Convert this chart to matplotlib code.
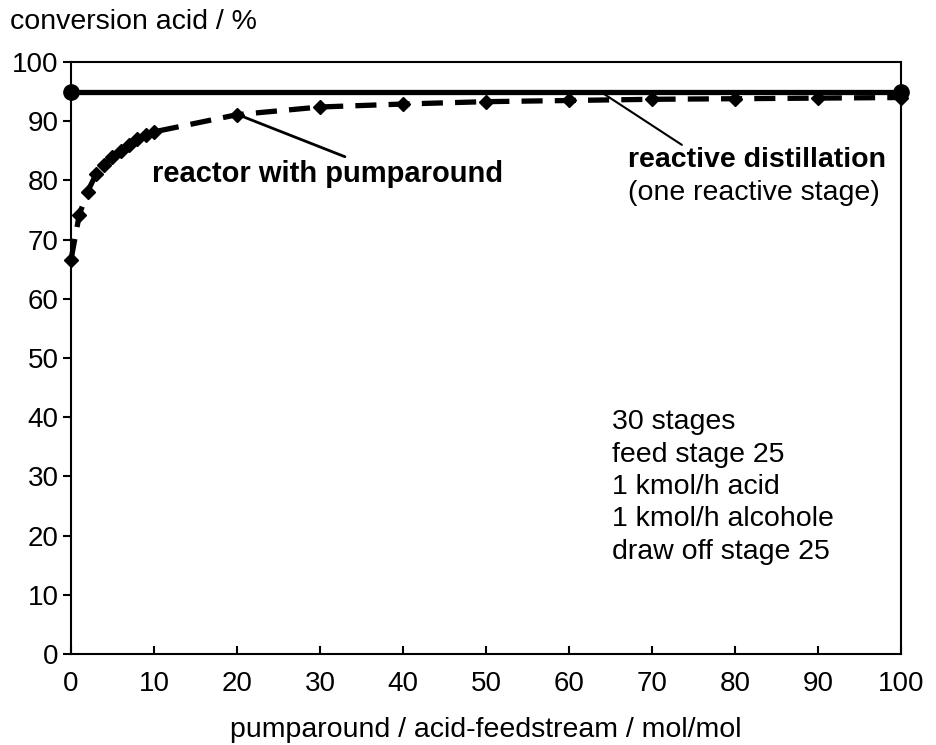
import matplotlib
matplotlib.use("Agg")
import matplotlib.pyplot as plt

plt.rcParams['font.family'] = ['Liberation Sans', 'DejaVu Sans']

# data
ratio = [0, 1, 2, 3, 4, 5, 6, 7, 8, 9, 10, 20, 30, 40, 50, 60, 70, 80, 90, 100]
conv_reactor = [66.6, 74.2, 78.1, 81.0, 82.6, 83.9, 85.0, 86.0, 87.0, 87.6, 88.2,
                91.1, 92.4, 92.9, 93.3, 93.5, 93.7, 93.8, 93.9, 94.0]
rd_x = [0, 100]
rd_conv = [95.0, 95.0]
xticks = list(range(0, 101, 10))
yticks = list(range(0, 101, 10))
info_lines = ["30 stages", "feed stage 25", "1 kmol/h acid", "1 kmol/h alcohole", "draw off stage 25"]

fs = 20.5
tfs = 20
fig = plt.figure(figsize=(9.37, 7.45), dpi=100)
ax = fig.add_axes([71/937, 1-654/745, 830/937, 592/745])

ax.plot(ratio, conv_reactor, color='black', lw=3.8, dashes=(4, 2.3),
        marker='D', ms=7.5, mfc='black', mec='black', clip_on=False, zorder=3)
ax.plot(rd_x, rd_conv, color='black', lw=3.8, marker='o', ms=11,
        clip_on=False, zorder=4)

ax.set_xlim(0, 100)
ax.set_ylim(0, 100)
ax.set_xticks(xticks)
ax.set_yticks(yticks)
ax.tick_params(axis='x', direction='in', length=6, width=1.5, labelsize=tfs, pad=12)
ax.tick_params(axis='y', direction='out', length=6, width=1.5, labelsize=tfs, pad=3)
for s in ax.spines.values():
    s.set_linewidth(1.5)

fig.text(10/937, 1-22/745, "conversion acid / %", fontsize=fs, va='center', ha='left')
fig.text(486/937, 1-730/745, "pumparound / acid-feedstream / mol/mol", fontsize=fs,
         va='center', ha='center')

# annotations
ax.annotate("", xy=(20.3, 91.0), xytext=(33.0, 84.0),
            arrowprops=dict(arrowstyle='-', color='black', lw=2,
                            shrinkA=0, shrinkB=0))
ax.text(9.8, 81.1, "reactor with pumparound", fontsize=21, fontweight='bold',
        ha='left', va='center')
ax.annotate("", xy=(64.0, 94.8), xytext=(73.6, 86.0),
            arrowprops=dict(arrowstyle='-', color='black', lw=1.5,
                            shrinkA=0, shrinkB=0))
ax.text(67.1, 83.4, "reactive distillation", fontsize=fs, fontweight='bold',
        ha='left', va='center')
ax.text(67.1, 77.9, "(one reactive stage)", fontsize=fs, ha='left', va='center')

ax.text(65.2, 28.2, "\n".join(info_lines), fontsize=fs, ha='left', va='center',
        linespacing=1.32)

fig.savefig("out.png", dpi=100)
